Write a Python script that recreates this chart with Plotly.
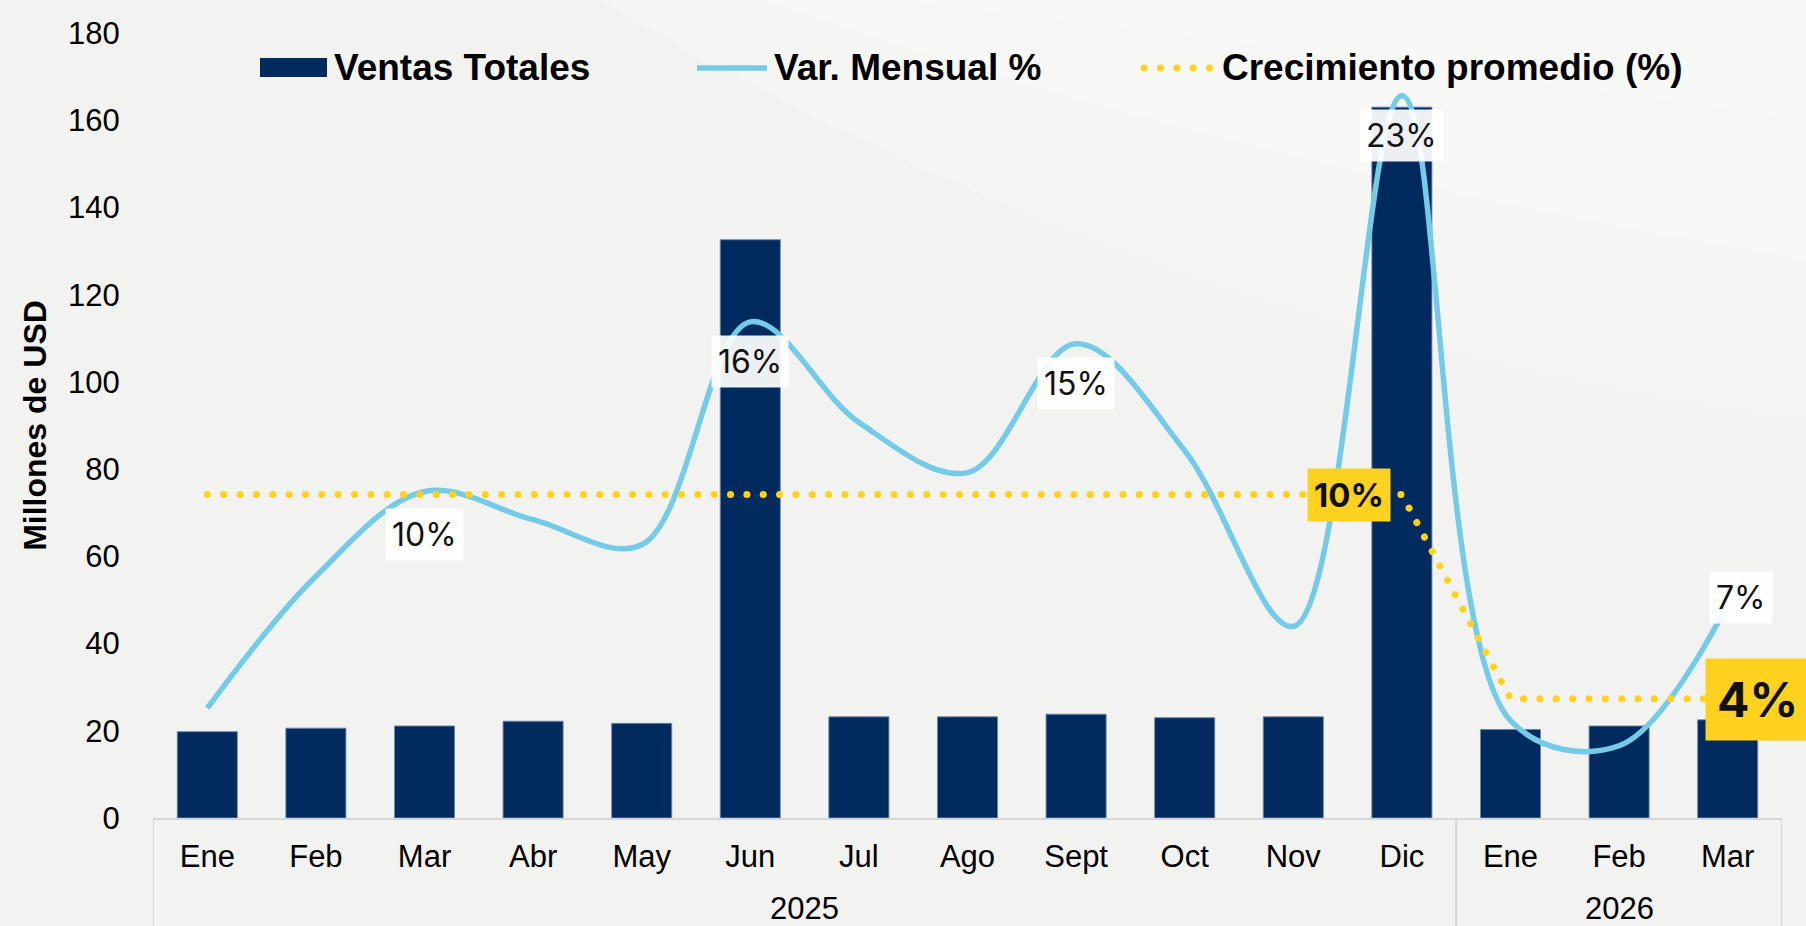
import plotly.graph_objects as go

# ---------------- data ----------------
years = ["2025"] * 12 + ["2026"] * 3
months = ["Ene", "Feb", "Mar", "Abr", "May", "Jun", "Jul", "Ago", "Sept", "Oct", "Nov", "Dic",
          "Ene", "Feb", "Mar"]
ventas = [19.8, 20.6, 21.1, 22.2, 21.7, 132.6, 23.2, 23.2, 23.8, 23.0, 23.2, 163.0,
          20.3, 21.1, 22.5]
var_mensual = [3.5, 7.7, 10.4, 9.5, 8.7, 15.8, 12.6, 11.0, 15.1, 11.7, 6.1, 23.0,
               3.1, 2.3, 6.8]
crec_prom = [10.3] * 12 + [3.8] * 3
y_ticks = [0, 20, 40, 60, 80, 100, 120, 140, 160, 180]

# labels shown on the chart: (index, text)
var_labels = [(2, "10%"), (5, "16%"), (8, "15%"), (11, "23%"), (14, "7%")]
crec_labels = [(11, "10%"), (14, "4%")]

# ---------------- styles ----------------
NAVY = "#012A5E"
BLUE = "#74CBE8"
YELLOW = "rgb(255, 210, 31)"
GRID = "#D6D6D6"
AXFONT = "Arial, Liberation Sans, sans-serif"
LBLFONT = "Inter, Lato, sans-serif"

W, H = 1806, 926
ML, MR, MT, MB = 153, 24, 33, 108
PW, PH = W - ML - MR, H - MT - MB


def px(xpix):
    return (xpix - ML) / PW


def py(ypix):
    return (H - MB - ypix) / PH


idx = list(range(len(months)))

fig = go.Figure()
fig.add_trace(go.Bar(
    x=idx, y=ventas, name="Ventas Totales",
    marker=dict(color=NAVY, line=dict(color="rgba(110,135,170,0.9)", width=1)),
    showlegend=False, hoverinfo="skip",
))
fig.add_trace(go.Scatter(
    x=idx, y=var_mensual, name="Var. Mensual %", yaxis="y2", mode="lines",
    line=dict(color=BLUE, width=5.5, shape="spline", smoothing=1.0),
    showlegend=False, hoverinfo="skip",
))
fig.add_trace(go.Scatter(
    x=idx, y=crec_prom, name="Crecimiento promedio (%)", yaxis="y2", mode="lines",
    line=dict(color=YELLOW, width=7, dash="7px,9.25px"),
    showlegend=False, hoverinfo="skip",
))

annotations = []
# Var. Mensual labels (white boxes)
for i, t in var_labels:
    if i == 14:
        xs, ys = 13, 7
    elif i == 2:
        xs, ys = 0, -43
    else:
        xs, ys = 0, -40
    annotations.append(dict(
        x=i, y=var_mensual[i], xref="x", yref="y2", text=t, showarrow=False,
        xshift=xs, yshift=ys, bgcolor="rgba(255,255,255,0.93)", borderpad=6,
        font=dict(family=LBLFONT, size=32, color="#111111"),
    ))
# Crecimiento promedio labels (yellow boxes)
for i, t in crec_labels:
    if i == 11:
        annotations.append(dict(
            x=i, y=crec_prom[i], xref="x", yref="y2", text="<b>" + t + "</b>",
            showarrow=False, xshift=-53, yshift=0, bgcolor=YELLOW, borderpad=6,
            font=dict(family=LBLFONT, size=33, color="#111111"),
        ))
    else:
        annotations.append(dict(
            x=i, y=crec_prom[i], xref="x", yref="y2", text="<b>" + t + "</b>",
            showarrow=False, xshift=30, yshift=-1, bgcolor=YELLOW, borderpad=11,
            font=dict(family=LBLFONT, size=48, color="#111111"),
        ))

# year group labels and dividers (second level of the category axis)
groups = []
for i, yv in enumerate(years):
    if not groups or groups[-1][0] != yv:
        groups.append([yv, i, i])
    else:
        groups[-1][2] = i
shapes = []
for yv, a, b in groups:
    annotations.append(dict(
        x=(a + b) / 2, y=py(908), xref="x", yref="paper", text=yv, showarrow=False,
        yanchor="middle", font=dict(family=AXFONT, size=31, color="#000"),
    ))
    shapes.append(dict(type="line", xref="x", yref="paper", x0=a - 0.5, x1=a - 0.5,
                       y0=0, y1=py(H), line=dict(color=GRID, width=2)))
shapes.append(dict(type="line", xref="x", yref="paper", x0=groups[-1][2] + 0.5,
                   x1=groups[-1][2] + 0.5, y0=0, y1=py(H), line=dict(color=GRID, width=2)))

# custom legend
LEG_Y = py(67)
annotations += [
    dict(x=px(332), y=LEG_Y, xref="paper", yref="paper", text="<b>Ventas Totales</b>",
         showarrow=False, xanchor="left", yanchor="middle",
         font=dict(family=AXFONT, size=37, color="#000")),
    dict(x=px(772), y=LEG_Y, xref="paper", yref="paper", text="<b>Var. Mensual %</b>",
         showarrow=False, xanchor="left", yanchor="middle",
         font=dict(family=AXFONT, size=37, color="#000")),
    dict(x=px(1220), y=LEG_Y, xref="paper", yref="paper", text="<b>Crecimiento promedio (%)</b>",
         showarrow=False, xanchor="left", yanchor="middle",
         font=dict(family=AXFONT, size=37, color="#000")),
]
shapes += [
    dict(type="rect", xref="paper", yref="paper", x0=px(260), x1=px(327), y0=py(77), y1=py(58),
         fillcolor=NAVY, line=dict(width=0)),
    dict(type="line", xref="paper", yref="paper", x0=px(697), x1=px(767), y0=py(68), y1=py(68),
         line=dict(color=BLUE, width=5.5)),
    dict(type="line", xref="paper", yref="paper", x0=px(1144), x1=px(1216), y0=py(68), y1=py(68),
         line=dict(color=YELLOW, width=7, dash="7px,9.25px")),
]

# soft background swooshes (decorative)
bg = [
    (0.22, (600, 0, 1806, 420, 1150, 330)),
    (0.22, (760, 0, 1806, 260, 1250, 170)),
    (0.22, (900, 0, 1806, 120, 1400, 60)),
]
for op, (a, b, c, d, e, f) in bg:
    path = "M {a},{b} L {c},{b} L {c},{d} Q {e},{f} {a},{b} Z".format(
        a=px(a), b=py(b), c=px(c), d=py(d), e=px(e), f=py(f))
    shapes.insert(0, dict(type="path", xref="paper", yref="paper", path=path, layer="below",
                          fillcolor="rgba(255,255,255,%s)" % op, line=dict(width=0)))

fig.update_layout(
    template="none",
    width=W, height=H, autosize=False,
    margin=dict(l=ML, r=MR, t=MT, b=MB, pad=0, autoexpand=False),
    paper_bgcolor="#F2F2F0", plot_bgcolor="rgba(0,0,0,0)",
    bargap=0.447,
    showlegend=False,
    annotations=annotations, shapes=shapes,
    xaxis=dict(
        range=[-0.5, len(months) - 0.5], tickvals=idx, ticktext=months,
        showgrid=False, zeroline=False, showline=True, linecolor=GRID, linewidth=2,
        ticks="outside", ticklen=10, tickcolor="rgba(0,0,0,0)",
        tickfont=dict(family=AXFONT, size=31, color="#000"),
        automargin=False, fixedrange=True,
    ),
    yaxis=dict(
        range=[0, 180], tickvals=y_ticks, showgrid=False, zeroline=False, showline=False,
        ticks="outside", ticklen=26, tickcolor="rgba(0,0,0,0)",
        tickfont=dict(family=AXFONT, size=31, color="#000"),
        title=dict(text="<b>Millones de USD</b>", font=dict(family=AXFONT, size=32, color="#000"),
                   standoff=11),
        automargin=False, fixedrange=True,
    ),
    yaxis2=dict(range=[0, 25], overlaying="y", side="right", visible=False, fixedrange=True),
)

post = """
document.body.style.margin = '0';
document.body.style.padding = '0';
document.body.style.overflow = 'hidden';
var gd = document.getElementById('{plot_id}');
function roundDots(){
  var ps = gd.querySelectorAll('path');
  ps.forEach(function(p){
    var s = (p.style.stroke || '').replace(/\\s/g,'');
    if (s === 'rgb(255,210,31)' && (p.style.strokeDasharray||'') !== '') {
      p.style.strokeLinecap = 'round';
      p.style.strokeDasharray = '0.1px,16.25px';
    }
  });
}
Plotly.relayout(gd, {width: 1806, height: 926}).then(roundDots);
roundDots();
"""

fig.write_html("out.html", post_script=post,
               config={"responsive": False, "displayModeBar": False})
